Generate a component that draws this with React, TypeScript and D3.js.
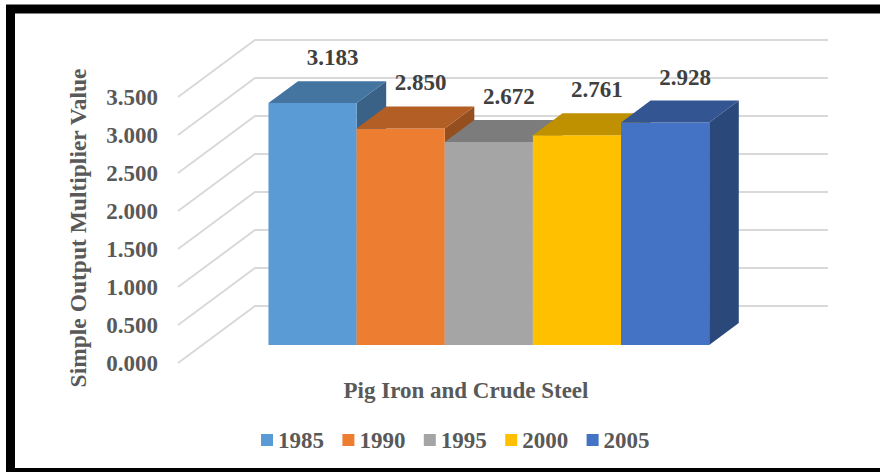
import React from 'react';
import * as d3 from 'd3';

const years = ['1985', '1990', '1995', '2000', '2005'];
const values = [3.183, 2.850, 2.672, 2.761, 2.928];
const colors = ['#5B9BD5', '#ED7D31', '#A5A5A5', '#FFC000', '#4472C4'];
const yTicks = [0, 0.5, 1, 1.5, 2, 2.5, 3, 3.5];
const xTitle = 'Pig Iron and Crude Steel';
const yTitle = 'Simple Output Multiplier Value';

const W = 880, H = 472;
const FONT = '"Liberation Serif", "Times New Roman", serif';
const TEXT = '#595959';

// oblique depth vector for the full floor depth
const DX = 77, DY = 57;
const barFront = 0.316, barBack = 0.70;

const y = d3.scaleLinear().domain([0, 3.5]).range([363, 97]);
const x = d3.scaleBand<string>().domain(years).range([178, 751]).paddingInner(0).paddingOuter(0.75);
const legendX = d3.scaleBand<string>().domain(years).range([261, 668]);

function P(px: number, v: number, d: number): [number, number] {
    return [px + d * DX, y(v) - d * DY];
}

function shade(c: string, f: number) {
    const rgb = d3.rgb(c);
    return d3.rgb(rgb.r * f, rgb.g * f, rgb.b * f).formatHex();
}

function poly(pts: [number, number][]) {
    return pts.map(p => p.join(',')).join(' ');
}

export default function App() {
    const x0 = x.range()[0], x1 = x.range()[1];
    const bw = x.bandwidth();

    return (
        <svg width={W} height={H} style={{position: 'absolute', left: 0, top: 0, background: '#fff'}}>
            <rect x={10.5} y={9} width={900} height={463.5} fill="#fff" stroke="#000" strokeWidth={9}/>

            {/* gridlines: side wall and back wall */}
            <g stroke="#d9d9d9" strokeWidth={2} fill="none">
                {yTicks.map(t => {
                    const a = P(x0, t, 0), b = P(x0, t, 1), c = P(x1, t, 1);
                    return <polyline key={t} points={poly([a, b, c])}/>;
                })}
            </g>

            {/* tick labels */}
            <g fontFamily={FONT} fontWeight="bold" fontSize={23} fill={TEXT} textAnchor="end">
                {yTicks.map(t => (
                    <text key={t} x={158} y={y(t)} dy="0.35em">{t.toFixed(3)}</text>
                ))}
            </g>

            {/* bars */}
            {years.map((yr, i) => {
                const v = values[i];
                const bx0 = x(yr)!, bx1 = bx0 + bw;
                const front = [P(bx0, v, barFront), P(bx1, v, barFront), P(bx1, 0, barFront), P(bx0, 0, barFront)] as [number, number][];
                const top = [P(bx0, v, barFront), P(bx1, v, barFront), P(bx1, v, barBack), P(bx0, v, barBack)] as [number, number][];
                const side = [P(bx1, v, barFront), P(bx1, v, barBack), P(bx1, 0, barBack), P(bx1, 0, barFront)] as [number, number][];
                return (
                    <g key={yr}>
                        <polygon points={poly(side)} fill={shade(colors[i], 0.63)}/>
                        <polygon points={poly(front)} fill={colors[i]}/>
                        <polygon points={poly(top)} fill={shade(colors[i], 0.75)}/>
                    </g>
                );
            })}

            {/* data labels */}
            <g fontFamily={FONT} fontWeight="bold" fontSize={23} fill="#404040" textAnchor="middle">
                {years.map((yr, i) => {
                    const [lx, ly] = P(x(yr)! + bw / 2, values[i], barFront);
                    return (
                        <text key={yr} x={lx + 20} y={ly - 46} dy="0.35em">
                            {values[i].toFixed(3)}
                        </text>
                    );
                })}
            </g>

            {/* axis titles */}
            <text x={466} y={390} dy="0.35em" textAnchor="middle" fontFamily={FONT} fontWeight="bold"
                  fontSize={23} fill={TEXT}>{xTitle}</text>
            <text transform="translate(78,228) rotate(-90)" dy="0.35em" textAnchor="middle" fontFamily={FONT}
                  fontWeight="bold" fontSize={23.5} fill={TEXT}>{yTitle}</text>

            {/* legend */}
            <g fontFamily={FONT} fontWeight="bold" fontSize={23} fill={TEXT}>
                {years.map((yr, i) => (
                    <g key={yr} transform={`translate(${legendX(yr)},440)`}>
                        <rect x={0} y={-6} width={12} height={12} fill={colors[i]}/>
                        <text x={17} y={0} dy="0.35em">{yr}</text>
                    </g>
                ))}
            </g>
        </svg>
    );
}
